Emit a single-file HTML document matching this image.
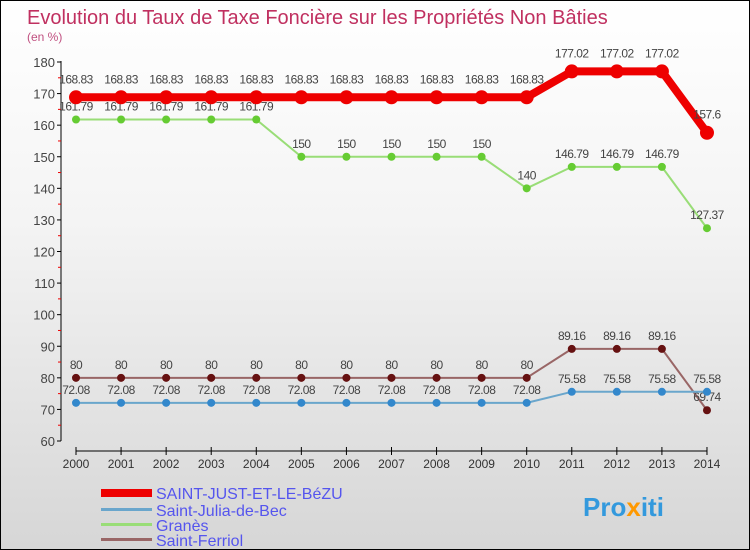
<!DOCTYPE html>
<html><head><meta charset="utf-8"><style>
body{margin:0}
#c{width:748px;height:548px;border:1px solid #000;background:linear-gradient(#ffffff,#f4f4f4 40%,#d6d6d6);position:relative;font-family:"Liberation Sans",sans-serif}
</style></head><body>
<div id="c">
<svg width="748" height="548" id="s" style="position:absolute;left:0;top:0">
<text x="26" y="23" font-size="20" fill="#c03060">Evolution du Taux de Taxe Foncière sur les Propriétés Non Bâties</text>
<text x="26" y="40" font-size="12" fill="#c05080">(en %)</text>
<g id="axes"></g><g id="marks"></g>
<g>
<rect x="100" y="488" width="51" height="8" fill="#e00"/>
<text x="155" y="498" font-size="16" fill="#5555ee">SAINT-JUST-ET-LE-BéZU</text>
<rect x="100" y="507" width="51" height="3" fill="#6aa6cc"/>
<text x="155" y="515" font-size="16" fill="#5555ee">Saint-Julia-de-Bec</text>
<rect x="100" y="522" width="51" height="3" fill="#99dd77"/>
<text x="155" y="530" font-size="16" fill="#5555ee">Granès</text>
<rect x="100" y="537" width="51" height="3" fill="#996666"/>
<text x="155" y="545" font-size="16" fill="#5555ee">Saint-Ferriol</text>
</g>
<text x="582" y="515" font-size="26" font-weight="bold" fill="#3399dd">Pro<tspan fill="#ff9900">x</tspan>iti</text>
</svg>
</div>
<script>
const years=[2000,2001,2002,2003,2004,2005,2006,2007,2008,2009,2010,2011,2012,2013,2014];
const yTicks=[60,70,80,90,100,110,120,130,140,150,160,170,180];
const sJust=[168.83,168.83,168.83,168.83,168.83,168.83,168.83,168.83,168.83,168.83,168.83,177.02,177.02,177.02,157.6];
const sJulia=[72.08,72.08,72.08,72.08,72.08,72.08,72.08,72.08,72.08,72.08,72.08,75.58,75.58,75.58,75.58];
const sGranes=[161.79,161.79,161.79,161.79,161.79,150,150,150,150,150,140,146.79,146.79,146.79,127.37];
const sFerriol=[80,80,80,80,80,80,80,80,80,80,80,89.16,89.16,89.16,69.74];
const NS="http://www.w3.org/2000/svg";
const X=i=>75+i*45.07, Y=v=>440-(v-60)*(379/120);
function mk(t,a,p){const e=document.createElementNS(NS,t);for(const k in a)e.setAttribute(k,a[k]);p.appendChild(e);return e;}
const ax=document.getElementById('axes'),mg=document.getElementById('marks');
const yl=mk('line',{x1:60,y1:60,x2:60,y2:440,stroke:'#000'},ax);

yTicks.forEach((v,i)=>{mk('line',{x1:56,y1:Y(v),x2:60,y2:Y(v),stroke:'#000'},ax);
 if(i<yTicks.length-1)mk('line',{x1:57,y1:Y(v+5),x2:60,y2:Y(v+5),stroke:'#e00'},ax);
 const t=mk('text',{x:54,y:Y(v)+5,'text-anchor':'end','font-size':13,fill:'#444'},ax);t.textContent=v;
 });
const xl=mk('line',{x1:X(0),y1:450,x2:X(14),y2:450,stroke:'#000'},ax);

years.forEach((y,i)=>{mk('line',{x1:X(i),y1:446,x2:X(i),y2:454,stroke:'#000'},ax);
 const t=mk('text',{x:X(i),y:467,'text-anchor':'middle','font-size':12,fill:'#333'},ax);t.textContent=y;
 });
function series(d,col,w,r,name,lab){
 const g=mk('g',{},mg);
 const p=mk('polyline',{points:d.map((v,i)=>X(i)+','+Y(v)).join(' '),fill:'none',stroke:col,'stroke-width':w,'stroke-linejoin':'round'},g);
 
 d.forEach((v,i)=>{const c=mk('circle',{cx:X(i),cy:Y(v),r:r,fill:lab.dot},g);
  
  const t=mk('text',{x:X(i),y:Y(v)-lab.dy,'text-anchor':'middle','font-size':12,fill:'#444','letter-spacing':'-0.5'},g);
  t.textContent=String(v).replace('.','.');
  });
}
series(sFerriol,'#996666',2,4,'saint-ferriol',{dot:'#661111',dy:9});
series(sJulia,'#6aa6cc',2,4,'saint-julia',{dot:'#3388cc',dy:-(-9)});
series(sGranes,'#99dd77',2,4,'granes',{dot:'#66cc33',dy:9});
series(sJust,'#e00',8,7,'saint-just',{dot:'#e00',dy:14});
</script>
</body></html>
